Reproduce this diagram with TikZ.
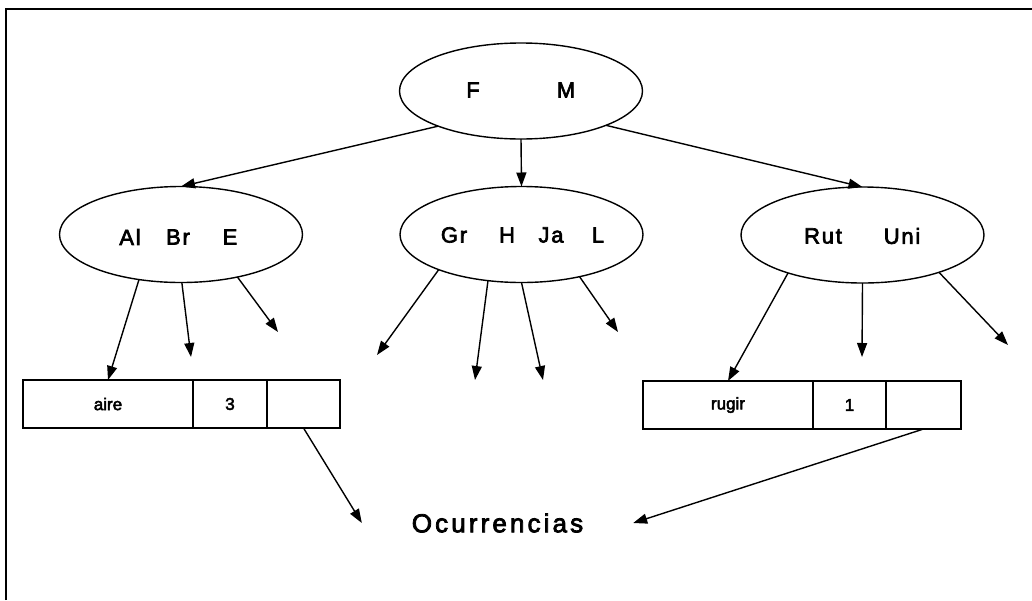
\documentclass[tikz,border=0pt]{standalone}
\usepackage{fontspec}
\setmainfont{Liberation Sans}[FakeBold=3]
\usetikzlibrary{shapes.geometric,arrows.meta}
\begin{document}
\begin{tikzpicture}[x=1pt,y=-1pt,
  every node/.style={inner sep=0pt, outer sep=0pt},
  keynode/.style={draw, ellipse, line width=1.4pt, minimum width=243pt, minimum height=96pt},
  keylabel/.style={font=\fontsize{22}{22}\selectfont\addfontfeature{LetterSpace=8}},
  cell/.style={draw, line width=1.4pt, minimum height=48pt, font=\fontsize{17}{17}\selectfont},
  ptr/.style={-{Triangle[length=14pt,width=10pt]}, line width=1.4pt},
]
\useasboundingbox (0,0) rectangle (1032,600);

% frame
\draw[line width=2.5pt] (6,600) -- (6,9) -- (1032,9);

% B-tree index nodes
\node[keynode] (T) at (521,91) {};
\node[keynode] (L) at (181,234.5) {};
\node[keynode] (M) at (521.5,234.5) {};
\node[keynode] (R) at (862.5,235) {};

\node[keylabel] (tF) at (473,90) {F};
\node[keylabel] (tM) at (566,90) {M};
\node[keylabel] (lAl) at (130,237) {Al};
\node[keylabel] (lBr) at (178,237) {Br};
\node[keylabel] (lE) at (230,237) {E};
\node[keylabel] (mGr) at (454,235) {Gr};
\node[keylabel] (mH) at (507,235) {H};
\node[keylabel] (mJa) at (551,235) {Ja};
\node[keylabel] (mL) at (598,235) {L};
\node[keylabel] (rRut) at (823,236) {Rut};
\node[keylabel] (rUni) at (902,236) {Uni};

% leaf records
\node[cell, minimum width=170pt] (aire) at (108,404) {aire};
\node[cell, minimum width=74pt] (n3) at (230,404) {3};
\node[cell, minimum width=73pt] (p1) at (303.5,404) {};
\node[cell, minimum width=170pt] (rugir) at (728,405) {rugir};
\node[cell, minimum width=73pt] (n1) at (849.5,405) {1};
\node[cell, minimum width=75pt] (p2) at (923.5,405) {};

\node[font=\fontsize{26}{26}\selectfont\addfontfeature{LetterSpace=12}, inner xsep=50pt] (occ) at (497.5,523) {Ocurrencias};

% loose pointer ends
\coordinate (l2) at (191,357);
\coordinate (l3) at (278,332);
\coordinate (m1) at (377,355);
\coordinate (m2) at (475,380);
\coordinate (m3) at (543,380);
\coordinate (m4) at (618,332);
\coordinate (r2) at (862,357);
\coordinate (r3) at (1008,345);

% pointers
\draw[ptr] (T.203) -- (L.north);
\draw[ptr] (T.south) -- (M.north);
\draw[ptr] (T.338.5) -- (R.north);

\draw[ptr] (L.227) -- (aire.north);
\draw[ptr] (L.271) -- (l2);
\draw[ptr] (L.323) -- (l3);

\draw[ptr] (M.203.5) -- (m1);
\draw[ptr] (M.234.8) -- (m2);
\draw[ptr] (M.270) -- (m3);
\draw[ptr] (M.324.3) -- (m4);

\draw[ptr] (R.207.3) -- (rugir.north);
\draw[ptr] (R.270) -- (r2);
\draw[ptr] (R.334.7) -- (r3);

\draw[ptr] (p1.south) -- (occ.west);
\draw[ptr] (p2.south) -- (occ.east);
\end{tikzpicture}
\end{document}
